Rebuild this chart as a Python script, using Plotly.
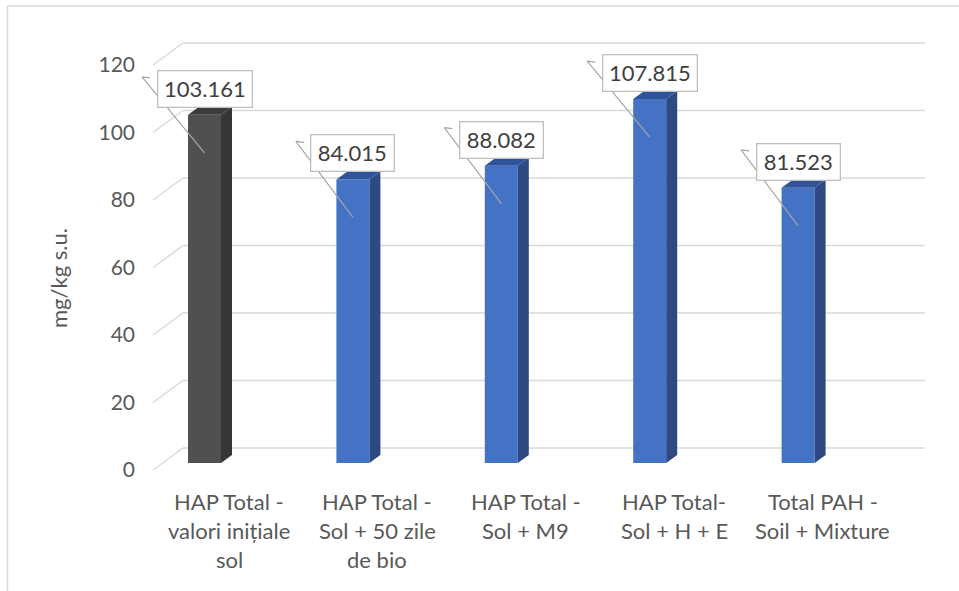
import plotly.graph_objects as go

# ---- data -------------------------------------------------------------
categories = [
    "HAP Total -\nvalori inițiale\nsol",
    "HAP Total -\nSol + 50 zile\nde bio",
    "HAP Total -\nSol + M9",
    "HAP Total-\nSol + H + E",
    "Total PAH -\nSoil + Mixture",
]
values = [103.161, 84.015, 88.082, 107.815, 81.523]
y_ticks = [0, 20, 40, 60, 80, 100, 120]
y_title = "mg/kg s.u."

# ---- styling ----------------------------------------------------------
front_colors = ["#505050", "#4472C4", "#4472C4", "#4472C4", "#4472C4"]
side_colors = ["#363636", "#2C4A81", "#2C4A81", "#2C4A81", "#2C4A81"]
top_colors = ["#3B3B3B", "#30539A", "#30539A", "#30539A", "#30539A"]
FONT = "Lato"
TEXT_GREY = "#595959"
GRID = "#D9D9D9"

W, H = 959, 591
PL, PR, PT, PB = 140, 930, 30, 480      # plot area in pixels
CAT0_PX, CAT_STEP = 204.5, 148.4        # first category centre, spacing
ZERO_PX, UNIT_PX = 463, 3.375           # value 0 on the bar plane, px per unit


def dx(px):
    return px / CAT_STEP


def dy(px):
    return px / UNIT_PX


def paper_x(px):
    return (px - PL) / (PR - PL)


def paper_y(py):
    return (PB - py) / (PB - PT)


x_range = [(PL - CAT0_PX) / CAT_STEP, (PR - CAT0_PX) / CAT_STEP]
y_range = [(ZERO_PX - PB) / UNIT_PX, (ZERO_PX - PT) / UNIT_PX]

BAR_W = dx(33)
DEPTH_X, DEPTH_Y = dx(11), dy(8)        # bar side/top depth
WALL_LEFT_FRONT = (153 - CAT0_PX) / CAT_STEP
WALL_LEFT_BACK = (183 - CAT0_PX) / CAT_STEP
WALL_RIGHT = (925 - CAT0_PX) / CAT_STEP
BACK_DY, FRONT_DY = dy(15), dy(7)

xs = list(range(len(values)))
fig = go.Figure()

# gridlines on the back wall and the left side wall
shapes = []
for g in y_ticks:
    shapes.append(dict(type="line", xref="x", yref="y", layer="below",
                       x0=WALL_LEFT_BACK, x1=WALL_RIGHT,
                       y0=g + BACK_DY, y1=g + BACK_DY,
                       line=dict(color=GRID, width=1.5)))
    shapes.append(dict(type="line", xref="x", yref="y", layer="below",
                       x0=WALL_LEFT_FRONT, x1=WALL_LEFT_BACK,
                       y0=g - FRONT_DY, y1=g + BACK_DY,
                       line=dict(color=GRID, width=1.5)))

# chart frame
shapes.append(dict(type="line", xref="paper", yref="paper",
                   x0=paper_x(7.5), x1=paper_x(7.5), y0=paper_y(6), y1=paper_y(600),
                   line=dict(color=GRID, width=1.5)))
shapes.append(dict(type="line", xref="paper", yref="paper",
                   x0=paper_x(7.5), x1=paper_x(970), y0=paper_y(6), y1=paper_y(6),
                   line=dict(color=GRID, width=1.5)))

# bar front faces
fig.add_trace(go.Bar(x=xs, y=values, width=BAR_W,
                     marker=dict(color=front_colors, line=dict(width=0)),
                     hoverinfo="skip", showlegend=False))

# bar side and top faces
for i, v in enumerate(values):
    xl, xr = i - BAR_W / 2, i + BAR_W / 2
    fig.add_trace(go.Scatter(
        x=[xr, xr + DEPTH_X, xr + DEPTH_X, xr, xr],
        y=[0, DEPTH_Y, v + DEPTH_Y, v, 0],
        fill="toself", fillcolor=side_colors[i], mode="lines",
        line=dict(width=0, color=side_colors[i]),
        hoverinfo="skip", showlegend=False))
    fig.add_trace(go.Scatter(
        x=[xl, xl + DEPTH_X, xr + DEPTH_X, xr, xl],
        y=[v, v + DEPTH_Y, v + DEPTH_Y, v, v],
        fill="toself", fillcolor=top_colors[i], mode="lines",
        line=dict(width=0, color=top_colors[i]),
        hoverinfo="skip", showlegend=False))

# data labels with leader lines
annotations = []
for i, v in enumerate(values):
    label = f"{v:.3f}"
    box_w = 11 * len(label) + 19
    sx = i - dx(box_w / 2 + 14.5)
    sy = v + dy(38)
    fig.add_trace(go.Scatter(
        x=[sx + dx(8), sx, i], y=[sy - dy(1), sy, v - dy(38)],
        mode="lines", line=dict(color="#A6A6A6", width=1.2),
        hoverinfo="skip", showlegend=False))
    annotations.append(dict(
        x=i, y=v, xref="x", yref="y", yshift=26, text=label, showarrow=False,
        xanchor="center", yanchor="middle",
        font=dict(family=FONT, size=22, color="#404040"),
        bgcolor="white", bordercolor="#BFBFBF", borderwidth=1.3, borderpad=0,
        width=box_w - 3, height=35))

# category labels, one line at a time
for i, cat in enumerate(categories):
    for k, line in enumerate(cat.split("\n")):
        annotations.append(dict(
            x=i + dx(24.5), y=paper_y(501 + 29 * k), xref="x", yref="paper",
            text=line, showarrow=False, xanchor="center", yanchor="middle",
            font=dict(family=FONT, size=22, color=TEXT_GREY)))

# value axis title
annotations.append(dict(
    x=paper_x(58), y=paper_y(278), xref="paper", yref="paper",
    text=y_title, textangle=-90, showarrow=False,
    xanchor="center", yanchor="middle",
    font=dict(family=FONT, size=22, color=TEXT_GREY)))

fig.update_layout(
    width=W, height=H,
    margin=dict(l=PL, r=W - PR, t=PT, b=H - PB),
    paper_bgcolor="white", plot_bgcolor="white",
    showlegend=False,
    shapes=shapes, annotations=annotations,
    xaxis=dict(range=x_range, showgrid=False, zeroline=False, showline=False,
               showticklabels=False, fixedrange=True),
    yaxis=dict(range=y_range, showgrid=False, zeroline=False, showline=False,
               tickvals=[g - FRONT_DY for g in y_ticks],
               ticktext=[str(g) for g in y_ticks],
               ticks="", ticklabelstandoff=4,
               tickfont=dict(family=FONT, size=21, color=TEXT_GREY),
               fixedrange=True),
)

fig.write_html("out.html")
